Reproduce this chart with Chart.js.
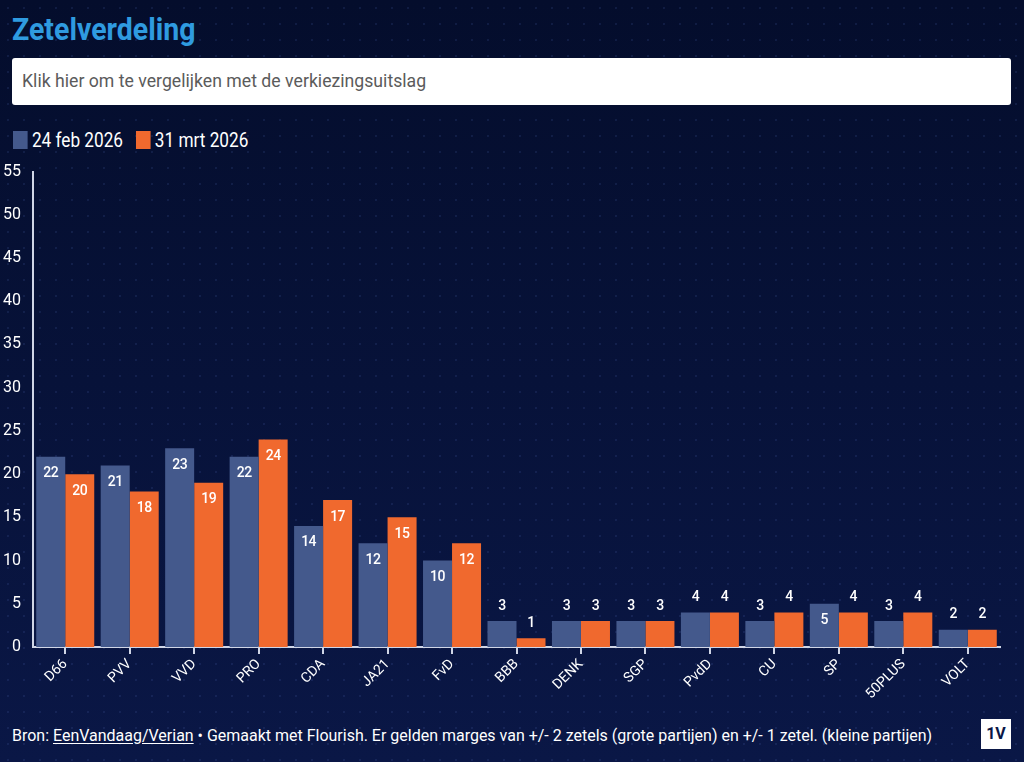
<!DOCTYPE html>
<html>
<head>
<meta charset="utf-8">
<script src="https://cdn.jsdelivr.net/npm/chart.js@4"></script>
<style>
  html, body { margin: 0; padding: 0; }
  body {
    width: 1024px; height: 762px; overflow: hidden; position: relative;
    background-color: #07123a;
    background-image:
      radial-gradient(rgba(90,120,200,0.14) 1px, transparent 1.2px),
      linear-gradient(180deg, #040d2c 0%, #0a1746 100%);
    background-size: 16px 16px, 100% 100%;
    font-family: "Roboto", sans-serif;
    color: #fff;
  }
  .narrow { transform-origin: left top; white-space: nowrap; }
  .title {
    position: absolute; left: 12px; top: 10px;
    font-size: 32px; font-weight: bold; color: #2f9be0;
    transform: scaleX(0.89);
  }
  .search {
    position: absolute; left: 12px; top: 58px; width: 999px; height: 47px;
    background: #fff; border-radius: 3px; box-sizing: border-box;
  }
  .search div {
    position: absolute; left: 10px; top: 0; line-height: 46px; font-size: 19px; color: #5b5b5b;
    transform: scaleX(0.93);
  }
  .legend { position: absolute; left: 13px; top: 128px; font-size: 20px; transform: scaleX(0.86); }
  .legend span.sw { display: inline-block; width: 17px; height: 18px; vertical-align: -2px; margin-right: 5px; }
  .legend .item { margin-right: 10px; }
  .footer {
    position: absolute; left: 12px; top: 725px; font-size: 17px; color: #fff;
    transform: scaleX(0.94);
  }
  .footer u { text-underline-offset: 2px; }
  .logo {
    position: absolute; left: 981px; top: 719px; width: 30px; height: 30px;
    background: #fff; color: #0a1746; font-weight: bold; font-size: 16px;
    text-align: center; line-height: 30px;
  }
  #wrap { position: absolute; left: 0; top: 158px; width: 1024px; height: 560px; }
</style>
</head>
<body>
<div class="title narrow">Zetelverdeling</div>
<div class="search"><div class="narrow">Klik hier om te vergelijken met de verkiezingsuitslag</div></div>
<div class="legend narrow">
  <span class="item"><span class="sw" style="background:#44598c"></span>24 feb 2026</span>
  <span class="item"><span class="sw" style="background:#f0692e"></span>31 mrt 2026</span>
</div>
<div id="wrap"><canvas id="chart"></canvas></div>
<div class="footer narrow">Bron: <u>EenVandaag/Verian</u> • Gemaakt met Flourish. Er gelden marges van +/- 2 zetels (grote partijen) en +/- 1 zetel. (kleine partijen)</div>
<div class="logo">1V</div>
<script>
const parties = ['D66', 'PVV', 'VVD', 'PRO', 'CDA', 'JA21', 'FvD', 'BBB', 'DENK', 'SGP', 'PvdD', 'CU', 'SP', '50PLUS', 'VOLT'];
const feb = [22, 21, 23, 22, 14, 12, 10, 3, 3, 3, 4, 3, 5, 3, 2];
const mrt = [20, 18, 19, 24, 17, 15, 12, 1, 3, 3, 4, 4, 4, 4, 2];
const seriesNames = ['24 feb 2026', '31 mrt 2026'];
const yTicks = [0, 5, 10, 15, 20, 25, 30, 35, 40, 45, 50, 55];

const FONT = '"Roboto", sans-serif';

const valueLabels = {
  id: 'valueLabels',
  afterDatasetsDraw(chart) {
    const ctx = chart.ctx;
    ctx.save();
    ctx.font = '500 14px ' + FONT;
    if ('letterSpacing' in ctx) ctx.letterSpacing = '-0.5px';
    ctx.fillStyle = '#ffffff';
    ctx.textAlign = 'center';
    ctx.textBaseline = 'middle';
    chart.data.datasets.forEach((ds, i) => {
      chart.getDatasetMeta(i).data.forEach((bar, j) => {
        const v = ds.data[j];
        const y = v >= 5 ? bar.y + 17 : bar.y - 15;
        ctx.fillText(String(v), bar.x, y);
      });
    });
    ctx.restore();
  }
};

new Chart(document.getElementById('chart'), {
  type: 'bar',
  data: {
    labels: parties,
    datasets: [
      { label: seriesNames[0], data: feb, backgroundColor: '#44598c' },
      { label: seriesNames[1], data: mrt, backgroundColor: '#f0692e' }
    ]
  },
  options: {
    responsive: true,
    maintainAspectRatio: false,
    animation: false,
    layout: { padding: { top: 10, right: 24, left: 0, bottom: 0 } },
    datasets: { bar: { categoryPercentage: 0.9, barPercentage: 1.0 } },
    plugins: { legend: { display: false }, tooltip: { enabled: false } },
    scales: {
      x: {
        grid: { offset: false, drawOnChartArea: false, drawTicks: true, tickLength: 7, color: '#d0d6e6', lineWidth: 2 },
        border: { color: '#d0d6e6', width: 2 },
        ticks: { color: '#ffffff', font: { family: FONT, size: 14 }, maxRotation: 45, minRotation: 45, padding: 2 },
        afterFit(scale) { scale.height = 71; }
      },
      y: {
        min: 0, max: 55,
        afterBuildTicks(scale) { scale.ticks = yTicks.map(v => ({ value: v })); },
        grid: { display: false },
        border: { color: '#d0d6e6', width: 2 },
        ticks: { color: '#ffffff', font: { family: FONT, size: 16 }, padding: 4 },
        afterFit(scale) { scale.width = 33; }
      }
    }
  },
  plugins: [valueLabels]
});
</script>
</body>
</html>
